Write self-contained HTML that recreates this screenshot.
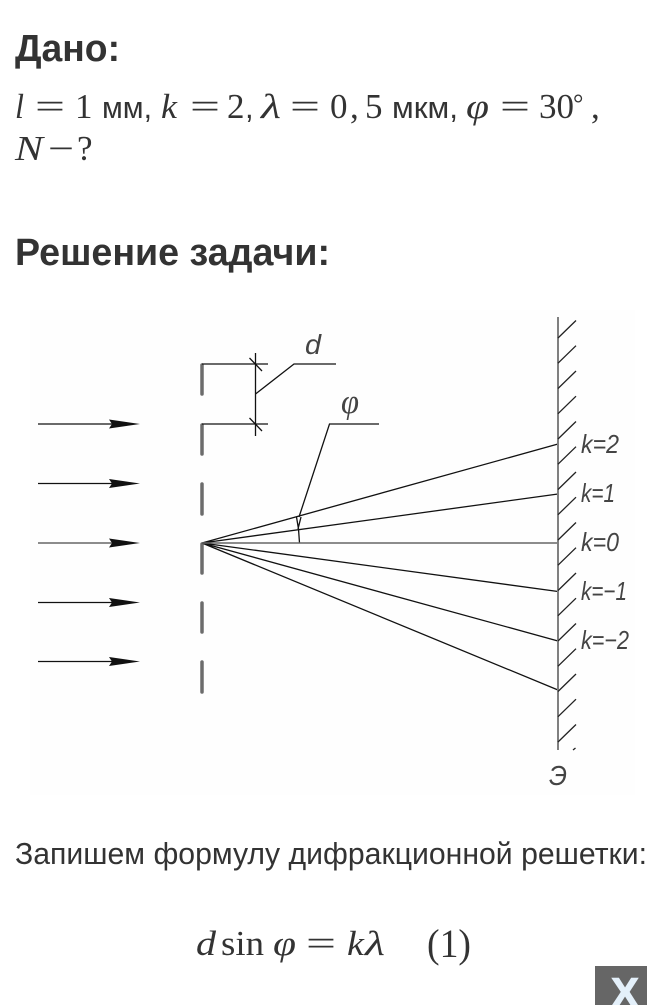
<!DOCTYPE html>
<html lang="ru"><head><meta charset="utf-8"><style>
html,body{margin:0;padding:0;background:#fff;width:647px;height:1005px;overflow:hidden}
svg{display:block}
.h{font:bold 38px "Liberation Sans",sans-serif;fill:#333}
.t{font:31px "Liberation Sans",sans-serif;fill:#333}
.s{font:35px "Liberation Serif",serif;fill:#333}
.i{font:italic 35px "Liberation Serif",serif;fill:#333}
.l{font:italic 26px "Liberation Sans",sans-serif;fill:#444}
.k{stroke:#111;stroke-width:1.3;fill:none}
.g{stroke:#6c6c6c;stroke-width:3.5;stroke-linecap:round;fill:none}
.w{stroke:#808080;stroke-width:2;fill:none}
.tick{stroke:#222;stroke-width:1.3}
</style></head><body>
<svg width="647" height="1005" viewBox="0 0 647 1005" xmlns="http://www.w3.org/2000/svg">
<rect x="30" y="310" width="605" height="485" fill="#fefefe"/>
<text class="h" x="15" y="61" textLength="105" lengthAdjust="spacingAndGlyphs">Дано:</text>
<text class="i" x="15" y="118" textLength="9" lengthAdjust="spacingAndGlyphs">l</text>
<text class="s" x="35" y="118" textLength="30" lengthAdjust="spacingAndGlyphs">=</text>
<text class="s" x="75" y="118">1</text>
<text class="t" x="102" y="118" textLength="50" lengthAdjust="spacingAndGlyphs">мм,</text>
<text class="i" x="161" y="118" textLength="16" lengthAdjust="spacingAndGlyphs">k</text>
<text class="s" x="190" y="118" textLength="30" lengthAdjust="spacingAndGlyphs">=</text>
<text class="s" x="227" y="118">2</text>
<text class="t" x="245" y="118">,</text>
<text class="i" x="261" y="118" textLength="20" lengthAdjust="spacingAndGlyphs">λ</text>
<text class="s" x="290" y="118" textLength="30" lengthAdjust="spacingAndGlyphs">=</text>
<text class="s" x="330" y="118">0</text>
<text class="s" x="350" y="118">,</text>
<text class="s" x="365" y="118">5</text>
<text class="t" x="392" y="118" textLength="66" lengthAdjust="spacingAndGlyphs">мкм,</text>
<text class="i" x="466" y="118" textLength="23" lengthAdjust="spacingAndGlyphs">φ</text>
<text class="s" x="500" y="118" textLength="30" lengthAdjust="spacingAndGlyphs">=</text>
<text class="s" x="539" y="118" textLength="35" lengthAdjust="spacingAndGlyphs">30</text>
<text class="s" x="573" y="112" style="font-size:26px">°</text>
<text class="s" x="591" y="118">,</text>
<text class="i" x="15" y="160" textLength="28" lengthAdjust="spacingAndGlyphs">N</text>
<text class="s" x="48" y="160" textLength="26" lengthAdjust="spacingAndGlyphs">−</text>
<text class="s" x="77" y="160">?</text>
<text class="h" x="15" y="265" textLength="315" lengthAdjust="spacingAndGlyphs">Решение задачи:</text>

<!-- arrows -->
<g class="k">
<path d="M38 424H115M38 483.500H115M38 602.500H115M38 661.500H115"/>
<path d="M38 543H115" stroke="#666" stroke-width="1.6"/>
</g>
<g fill="#111">
<path d="M109 419.500L140 424L109 428.500L112 424Z"/>
<path d="M109 479L140 483.500L109 488L112 483.500Z"/>
<path d="M109 538.500L140 543L109 547.500L112 543Z"/>
<path d="M109 598L140 602.500L109 607L112 602.500Z"/>
<path d="M109 657L140 661.500L109 666L112 661.500Z"/>
</g>
<!-- slits -->
<g class="g">
<path d="M202 365V394M202 425V454M202 484V514M202 544V573M202 603V632M202 662V692"/>
</g>
<!-- d dimension -->
<g class="k">
<path d="M202 364H268M202 424H268M255.500 353V436"/>
<path d="M249.500 358L262 371M249.500 418L262 431"/>
<path d="M255.500 394L294 364H336"/>
<path d="M299 517L329.500 424H379"/>
<path d="M296.500 517L298.500 529L299.500 543M298 529L301 517"/>
</g>
<!-- rays -->
<g class="k">
<path d="M202 543L558 444M202 543L558 494M202 543L558 591.500M202 543L558 641M202 543L558 690"/>
<path d="M202 543H558" stroke="#666" stroke-width="1.6"/>
</g>
<!-- wall -->
<path class="w" d="M558 317V750"/>
<g class="tick">
<path d="M558 338L576 320.500M558 363.200L576 345.700M558 388.500L576 371M558 413.700L576 396.200M558 439L576 421.500M558 464.200L576 446.700M558 489.500L576 472M558 514.700L576 497.200M558 540L576 522.500M558 565.200L576 547.700M558 590.500L576 573M558 615.700L576 598.200M558 641L576 623.500M558 666.200L576 648.700M558 691.500L576 674M558 716.700L576 699.200M558 742L576 724.500"/>
<path d="M573 750L575.500 748"/>
</g>
<!-- labels -->
<text class="l" x="305" y="354" textLength="16" lengthAdjust="spacingAndGlyphs" style="font-size:28px">d</text>
<text class="l" x="341" y="413" textLength="18" lengthAdjust="spacingAndGlyphs" style="font-size:34px;font-family:'Liberation Serif',serif">φ</text>
<text class="l" x="581" y="453" textLength="38" lengthAdjust="spacingAndGlyphs">k=2</text>
<text class="l" x="581" y="502" textLength="34" lengthAdjust="spacingAndGlyphs">k=1</text>
<text class="l" x="581" y="551" textLength="38" lengthAdjust="spacingAndGlyphs">k=0</text>
<text class="l" x="581" y="600" textLength="46" lengthAdjust="spacingAndGlyphs">k=−1</text>
<text class="l" x="581" y="649" textLength="48" lengthAdjust="spacingAndGlyphs">k=−2</text>
<text class="l" x="549" y="785" textLength="18" lengthAdjust="spacingAndGlyphs" style="font-size:28px">Э</text>

<text class="t" x="15" y="864" textLength="632" lengthAdjust="spacingAndGlyphs">Запишем формулу дифракционной решетки:</text>
<text class="i" x="196" y="955" textLength="20" lengthAdjust="spacingAndGlyphs">d</text>
<text class="s" x="221" y="955" textLength="43" lengthAdjust="spacingAndGlyphs">sin</text>
<text class="i" x="273" y="955" textLength="23" lengthAdjust="spacingAndGlyphs">φ</text>
<text class="s" x="306" y="955" textLength="30" lengthAdjust="spacingAndGlyphs">=</text>
<text class="i" x="347" y="955" textLength="17" lengthAdjust="spacingAndGlyphs">k</text>
<text class="i" x="365" y="955" textLength="20" lengthAdjust="spacingAndGlyphs">λ</text>
<text class="s" x="427" y="957" textLength="44" lengthAdjust="spacingAndGlyphs" style="font-size:40px">(1)</text>

<rect x="595" y="966" width="52" height="39" fill="#666"/>
<text x="625" y="1007" text-anchor="middle" stroke="#e4f0fa" stroke-width="1" style="font:bold 42px 'Liberation Sans',sans-serif;fill:#e4f0fa">X</text>
</svg>
</body></html>
